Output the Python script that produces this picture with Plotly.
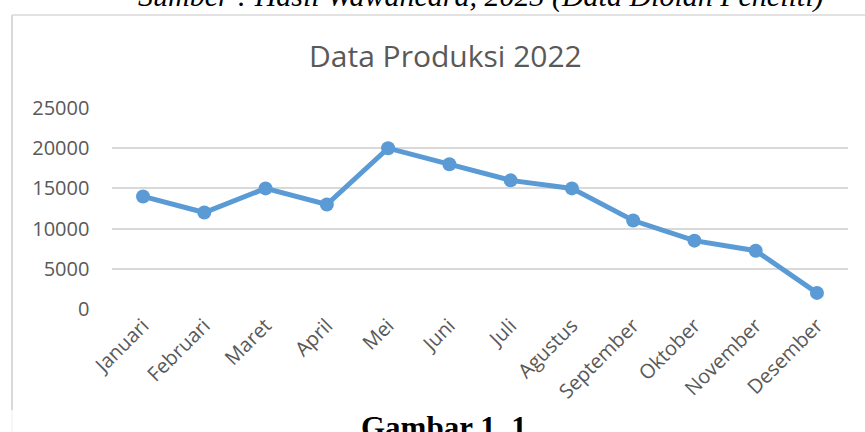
import plotly.graph_objects as go

months = ["Januari", "Februari", "Maret", "April", "Mei", "Juni", "Juli",
          "Agustus", "September", "Oktober", "November", "Desember"]
produksi = [14000, 12000, 15000, 13000, 20000, 18000, 16000, 15000, 11000, 8500, 7250, 2000]
y_ticks = [0, 5000, 10000, 15000, 20000, 25000]

W, H = 865, 432
def px(x): return x / W
def py(y): return 1 - y / H

FONT = "Open Sans"
GRAY = "#595959"

fig = go.Figure()
fig.add_trace(go.Scatter(
    x=months, y=produksi, mode="lines+markers",
    line=dict(color="#5B9BD5", width=5),
    marker=dict(color="#5B9BD5", size=14),
    cliponaxis=False, showlegend=False,
))

fig.update_layout(
    width=W, height=H,
    margin=dict(l=0, r=0, t=0, b=0),
    paper_bgcolor="white", plot_bgcolor="white",
    font=dict(family=FONT, color=GRAY),
    xaxis=dict(
        domain=[px(112.4), px(847.6)],
        type="category", range=[-0.5, 11.5],
        showgrid=False, zeroline=False, showline=False, ticks="",
        tickangle=-45, tickfont=dict(size=20, color=GRAY, family=FONT),
        automargin=False,
    ),
    yaxis=dict(
        domain=[py(309), py(108)],
        range=[0, 25000], tickvals=y_ticks, tickformat="d",
        showgrid=True, gridcolor="#D9D9D9", gridwidth=1.5,
        zeroline=False, showline=False, ticks="",
        tickfont=dict(size=20, color=GRAY, family=FONT),
        ticklabelstandoff=22, automargin=False,
    ),
    shapes=[
        dict(type="line", xref="paper", yref="paper", x0=px(12), x1=1.01, y0=py(15), y1=py(15),
             line=dict(color="#D9D9D9", width=1.5)),
        dict(type="line", xref="paper", yref="paper", x0=px(12), x1=px(12), y0=py(15), y1=py(410),
             line=dict(color="#D9D9D9", width=2)),
        dict(type="line", xref="paper", yref="paper", x0=px(12), x1=px(12), y0=py(410), y1=0,
             line=dict(color="#EEEEEE", width=1)),
    ],
    annotations=[
        dict(text="Data Produksi 2022", x=px(446), y=py(55), xref="paper", yref="paper",
             showarrow=False, xanchor="center", yanchor="middle",
             font=dict(size=30, color=GRAY, family=FONT)),
        dict(text="<i>Sumber : Hasil Wawancara, 2023 (Data Diolah Peneliti)</i>",
             x=px(481), y=py(-4), xref="paper", yref="paper",
             showarrow=False, xanchor="center", yanchor="middle",
             font=dict(size=30, color="#000000", family="Liberation Serif")),
        dict(text="<b>Gambar 1. 1</b>", x=px(444), y=py(408), xref="paper", yref="paper",
             showarrow=False, xanchor="center", yanchor="top",
             font=dict(size=31, color="#000000", family="Liberation Serif")),
    ],
)

fig.write_html("out.html", config={"displayModeBar": False},
               post_script="document.body.style.margin='0';")
